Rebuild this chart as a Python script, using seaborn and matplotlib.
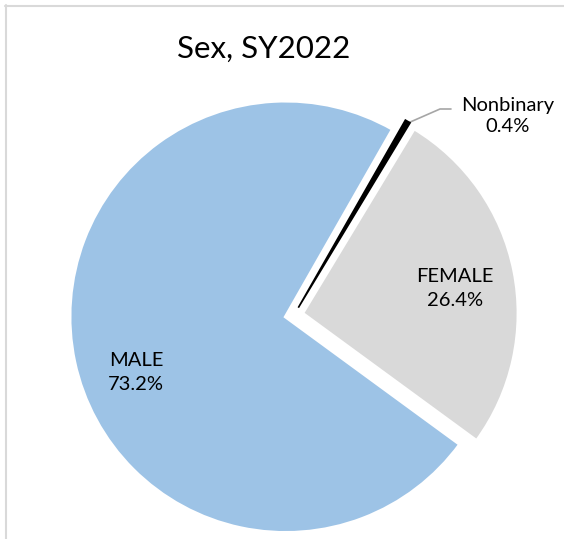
import matplotlib
matplotlib.use("Agg")
import matplotlib.pyplot as plt
import seaborn as sns
from matplotlib.lines import Line2D

sns.set_style("white")
plt.rcParams['font.family'] = ['Lato', 'DejaVu Sans']

# Data (drawing order: counter-clockwise from lower right)
categories = ["FEMALE", "Nonbinary", "MALE"]
values = [26.4, 0.4, 73.2]
colors = sns.color_palette(["#D9D9D9", "#000000", "#9DC3E6"])
title = "Sex, SY2022"

W, H = 564, 539
fig = plt.figure(figsize=(W / 100, H / 100), dpi=100)
ax = fig.add_axes([0, 0, 1, 1])

cx, cy, R = 294, H - 315, 216
wedges, _ = ax.pie(values, colors=colors, startangle=-36.2, counterclock=True,
                   center=(cx, cy), radius=R, explode=[8.5, 8.5, 8.5],
                   wedgeprops=dict(edgecolor="white", linewidth=2.5),
                   frame=True)
# the tiny slice keeps its own colour at the edge so it stays visible
wedges[1].set_edgecolor("black")
wedges[1].set_linewidth(1.2)
wedges[1].set_zorder(5)

ax.set_xlim(0, W)
ax.set_ylim(0, H)
ax.set_axis_off()

ax.text(264, H - 49, title, ha="center", va="center", fontsize=22.5, color="black")

lab_fs = 14.5
ax.text(136, H - 373, "MALE\n73.2%", ha="center", va="center", fontsize=lab_fs,
        linespacing=1.5, color="black")
ax.text(455, H - 288, "FEMALE\n26.4%", ha="center", va="center", fontsize=lab_fs,
        linespacing=1.5, color="black")
ax.text(508, H - 116, "Nonbinary\n0.4%", ha="center", va="center", fontsize=lab_fs,
        linespacing=1.35, color="black")
ax.plot([408, 440, 451], [H - 123, H - 109, H - 109], color="#A6A6A6", lw=1.2)

# chart border (partially visible)
fig.add_artist(Line2D([5 / W, 1], [1 - 5.5 / H, 1 - 5.5 / H], color="#D9D9D9", lw=1.5))
fig.add_artist(Line2D([5.5 / W, 5.5 / W], [0, 1 - 5 / H], color="#D9D9D9", lw=1.5))

fig.savefig("out.png", dpi=100)
